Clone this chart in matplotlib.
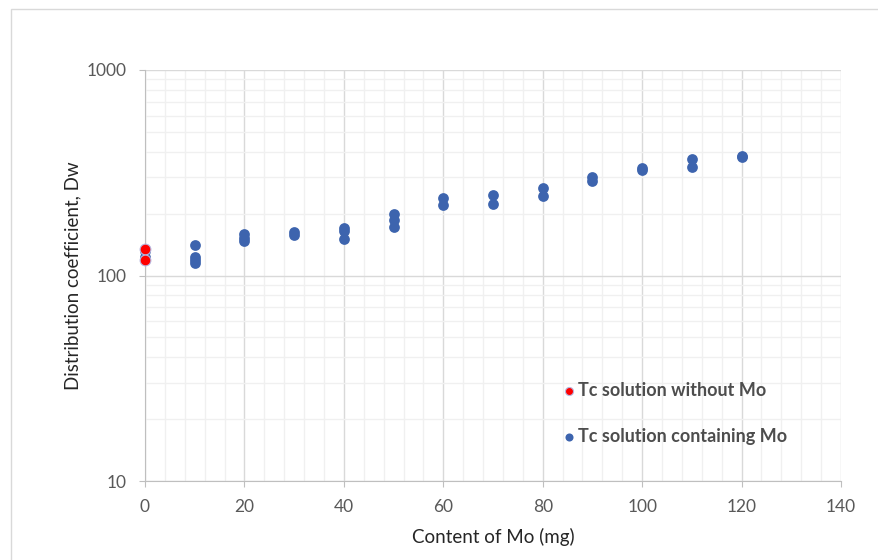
import matplotlib
matplotlib.use("Agg")
import matplotlib.pyplot as plt
from matplotlib.ticker import FixedLocator, NullFormatter, LogLocator
from matplotlib.patches import Rectangle

plt.rcParams['font.family'] = ['Lato', 'DejaVu Sans']

# Tc solution without Mo
mo_free_x = [0, 0]
mo_free_dw = [135, 119]

# Tc solution containing Mo
mo_x = [0, 0, 10, 10, 10, 10, 20, 20, 20, 30, 30, 40, 40, 40, 50, 50, 50,
        60, 60, 70, 70, 80, 80, 90, 90, 100, 100, 110, 110, 120, 120]
mo_dw = [131, 123, 141, 123, 119, 115, 160, 153, 147, 162, 158, 171, 164, 151,
         200, 186, 173, 239, 221, 247, 224, 268, 243, 301, 287, 333, 325,
         367, 338, 382, 376]

x_ticks = [0, 20, 40, 60, 80, 100, 120, 140]
y_ticks = [10, 100, 1000]

W, H = 879, 560
fig = plt.figure(figsize=(W / 100, H / 100), dpi=100)

# outer chart frame
fig.patches.append(Rectangle((11 / W, -0.1), 2.0, 1 - 9 / H + 0.1,
                             transform=fig.transFigure, fill=False,
                             edgecolor='#D9D9D9', linewidth=1.0))

left, right, top, bottom = 145, 841, 70, 481
ax = fig.add_axes([left / W, 1 - bottom / H, (right - left) / W, (bottom - top) / H])

ax.set_yscale('log')
ax.set_xlim(0, 140)
ax.set_ylim(10, 1000)

ax.xaxis.set_major_locator(FixedLocator(x_ticks))
ax.xaxis.set_minor_locator(FixedLocator([v for v in range(0, 141, 4) if v % 20]))
ax.yaxis.set_major_locator(FixedLocator(y_ticks))
ax.yaxis.set_minor_locator(LogLocator(base=10, subs=range(2, 10)))
ax.yaxis.set_minor_formatter(NullFormatter())
ax.set_yticklabels([str(v) for v in y_ticks])
ax.set_xticklabels([str(v) for v in x_ticks])

ax.grid(which='major', color='#D9D9D9', linewidth=1.0)
ax.grid(which='minor', color='#F0F0F0', linewidth=1.0)
ax.set_axisbelow(True)

for side in ['top', 'right']:
    ax.spines[side].set_visible(False)
ax.spines['left'].set_color('#BFBFBF')
ax.spines['bottom'].set_color('#BFBFBF')

ax.tick_params(which='major', length=4, color='#BFBFBF', labelcolor='#595959',
               labelsize=12.5)
ax.tick_params(axis='x', which='major', pad=9)
ax.tick_params(axis='y', which='major', pad=9)
ax.tick_params(which='minor', length=0)

ax.scatter(mo_x, mo_dw, s=60, color='#3D64AE', zorder=3, linewidths=0,
           label='Tc solution containing Mo', clip_on=False)
ax.scatter(mo_free_x, mo_free_dw, s=60, color='#FF0000', zorder=4, linewidths=0.8,
           edgecolors='#B8B8E0', label='Tc solution without Mo', clip_on=False)

ax.set_xlabel('Content of Mo (mg)', fontsize=13.5, color='#262626', labelpad=9)
ax.set_ylabel('Distribution coefficient, Dw', fontsize=13.5, color='#262626', labelpad=4)

handles, labels = ax.get_legend_handles_labels()
leg = ax.legend(handles[::-1], labels[::-1], loc='upper left',
                bbox_to_anchor=(564 / W, 1 - 382 / H), bbox_transform=fig.transFigure,
                frameon=False, borderaxespad=0, borderpad=0, handlelength=0.5,
                handletextpad=0.25, labelspacing=1.6, markerscale=0.75,
                prop={'size': 13, 'weight': 'bold'})
for t in leg.get_texts():
    t.set_color('#4D4D4D')

fig.savefig('out.png', dpi=100)
